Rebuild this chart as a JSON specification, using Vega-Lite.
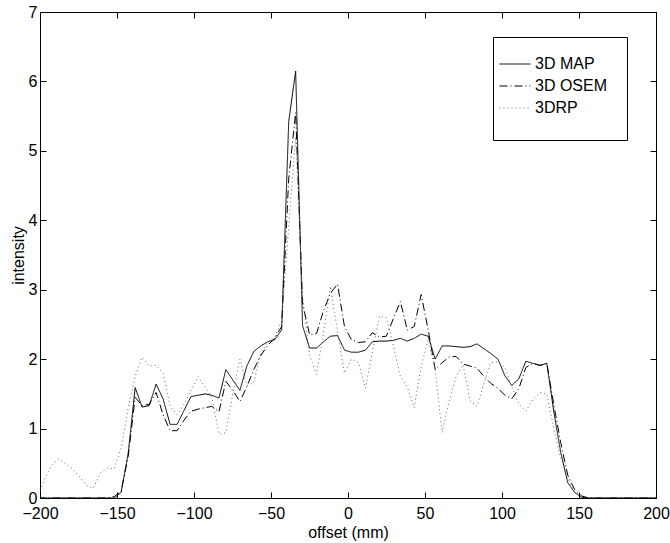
{
  "$schema": "https://vega.github.io/schema/vega-lite/v6.json",
  "width": 616,
  "height": 486,
  "autosize": "none",
  "padding": {"left": 40, "top": 12, "right": 14, "bottom": 45},
  "background": "white",
  "config": {
    "view": {"stroke": "black", "strokeWidth": 1},
    "axis": {
      "domain": false, "grid": false, "tickColor": "black", "tickSize": -6, "tickWidth": 1,
      "labelFlush": false,
      "labelFont": "Liberation Sans", "labelFontSize": 16, "labelColor": "black",
      "titleFont": "Liberation Sans", "titleFontSize": 16, "titleFontWeight": "normal", "titleColor": "black"
    },
    "legend": {
      "orient": "none", "legendX": 453, "legendY": 25,
      "strokeColor": "black", "fillColor": "white", "padding": 19,
      "symbolType": "M-3.1,0H3.1", "symbolSize": 100, "symbolStrokeWidth": 1,
      "symbolOffset": -5,
      "labelFont": "Liberation Sans", "labelFontSize": 16, "labelColor": "black",
      "labelOffset": 12, "rowPadding": 6,
      "titleOrient": "bottom", "titleFontSize": 5, "titlePadding": 0, "titleLimit": 400, "titleColor": "white"
    }
  },
  "data": {"values": [
    {"x": -201.6, "3D MAP": 0, "3D OSEM": 0, "3DRP": 0},
    {"x": -197.1, "3D MAP": 0, "3D OSEM": 0, "3DRP": 0.27},
    {"x": -192.6, "3D MAP": 0, "3D OSEM": 0, "3DRP": 0.47},
    {"x": -188.0, "3D MAP": 0, "3D OSEM": 0, "3DRP": 0.56},
    {"x": -183.5, "3D MAP": 0, "3D OSEM": 0, "3DRP": 0.5},
    {"x": -179.0, "3D MAP": 0, "3D OSEM": 0, "3DRP": 0.42},
    {"x": -174.4, "3D MAP": 0, "3D OSEM": 0, "3DRP": 0.31},
    {"x": -169.9, "3D MAP": 0, "3D OSEM": 0, "3DRP": 0.18},
    {"x": -165.4, "3D MAP": 0, "3D OSEM": 0, "3DRP": 0.14},
    {"x": -160.8, "3D MAP": 0, "3D OSEM": 0, "3DRP": 0.36},
    {"x": -156.3, "3D MAP": 0, "3D OSEM": 0, "3DRP": 0.43},
    {"x": -151.8, "3D MAP": 0, "3D OSEM": 0.02, "3DRP": 0.42},
    {"x": -147.3, "3D MAP": 0.08, "3D OSEM": 0.1, "3DRP": 0.72},
    {"x": -142.7, "3D MAP": 0.65, "3D OSEM": 0.6, "3DRP": 1.3},
    {"x": -138.2, "3D MAP": 1.59, "3D OSEM": 1.45, "3DRP": 1.75},
    {"x": -133.7, "3D MAP": 1.31, "3D OSEM": 1.33, "3DRP": 2.03},
    {"x": -129.1, "3D MAP": 1.33, "3D OSEM": 1.35, "3DRP": 1.9},
    {"x": -124.6, "3D MAP": 1.64, "3D OSEM": 1.52, "3DRP": 1.91},
    {"x": -120.1, "3D MAP": 1.43, "3D OSEM": 1.2, "3DRP": 1.8},
    {"x": -115.5, "3D MAP": 1.06, "3D OSEM": 0.97, "3DRP": 1.32},
    {"x": -111.0, "3D MAP": 1.06, "3D OSEM": 0.97, "3DRP": 1.2},
    {"x": -106.5, "3D MAP": 1.26, "3D OSEM": 1.12, "3DRP": 1.35},
    {"x": -102.0, "3D MAP": 1.46, "3D OSEM": 1.25, "3DRP": 1.55},
    {"x": -97.4, "3D MAP": 1.48, "3D OSEM": 1.28, "3DRP": 1.75},
    {"x": -92.9, "3D MAP": 1.5, "3D OSEM": 1.3, "3DRP": 1.6},
    {"x": -88.4, "3D MAP": 1.48, "3D OSEM": 1.32, "3DRP": 1.45},
    {"x": -83.8, "3D MAP": 1.44, "3D OSEM": 1.24, "3DRP": 0.92},
    {"x": -79.3, "3D MAP": 1.85, "3D OSEM": 1.68, "3DRP": 0.94},
    {"x": -74.8, "3D MAP": 1.7, "3D OSEM": 1.55, "3DRP": 1.5},
    {"x": -70.2, "3D MAP": 1.55, "3D OSEM": 1.39, "3DRP": 2.0},
    {"x": -65.7, "3D MAP": 1.9, "3D OSEM": 1.6, "3DRP": 1.62},
    {"x": -61.2, "3D MAP": 2.11, "3D OSEM": 1.85, "3DRP": 1.66},
    {"x": -56.7, "3D MAP": 2.19, "3D OSEM": 2.05, "3DRP": 2.09},
    {"x": -52.1, "3D MAP": 2.25, "3D OSEM": 2.2, "3DRP": 2.25},
    {"x": -47.6, "3D MAP": 2.28, "3D OSEM": 2.3, "3DRP": 2.32},
    {"x": -43.1, "3D MAP": 2.42, "3D OSEM": 2.47, "3DRP": 2.55},
    {"x": -38.5, "3D MAP": 5.42, "3D OSEM": 4.6, "3DRP": 3.9},
    {"x": -34.0, "3D MAP": 6.15, "3D OSEM": 5.55, "3DRP": 5.2},
    {"x": -29.5, "3D MAP": 2.48, "3D OSEM": 2.8, "3DRP": 2.9},
    {"x": -24.9, "3D MAP": 2.16, "3D OSEM": 2.35, "3DRP": 2.05},
    {"x": -20.4, "3D MAP": 2.16, "3D OSEM": 2.37, "3DRP": 1.78},
    {"x": -15.9, "3D MAP": 2.25, "3D OSEM": 2.7, "3DRP": 2.38},
    {"x": -11.4, "3D MAP": 2.33, "3D OSEM": 2.95, "3DRP": 3.05},
    {"x": -6.8, "3D MAP": 2.34, "3D OSEM": 3.08, "3DRP": 2.4},
    {"x": -2.3, "3D MAP": 2.13, "3D OSEM": 2.47, "3DRP": 1.8},
    {"x": 2.2, "3D MAP": 2.1, "3D OSEM": 2.28, "3DRP": 2.0},
    {"x": 6.8, "3D MAP": 2.1, "3D OSEM": 2.24, "3DRP": 1.95},
    {"x": 11.3, "3D MAP": 2.13, "3D OSEM": 2.25, "3DRP": 1.58},
    {"x": 15.8, "3D MAP": 2.25, "3D OSEM": 2.38, "3DRP": 2.1},
    {"x": 20.4, "3D MAP": 2.26, "3D OSEM": 2.32, "3DRP": 2.62},
    {"x": 24.9, "3D MAP": 2.26, "3D OSEM": 2.33, "3DRP": 2.6},
    {"x": 29.4, "3D MAP": 2.27, "3D OSEM": 2.58, "3DRP": 2.2},
    {"x": 34.0, "3D MAP": 2.3, "3D OSEM": 2.83, "3DRP": 1.75},
    {"x": 38.5, "3D MAP": 2.26, "3D OSEM": 2.42, "3DRP": 1.6},
    {"x": 43.0, "3D MAP": 2.3, "3D OSEM": 2.47, "3DRP": 1.3},
    {"x": 47.5, "3D MAP": 2.36, "3D OSEM": 2.93, "3DRP": 1.9},
    {"x": 52.1, "3D MAP": 2.33, "3D OSEM": 2.42, "3DRP": 2.28},
    {"x": 56.6, "3D MAP": 2.0, "3D OSEM": 1.85, "3DRP": 1.85},
    {"x": 61.1, "3D MAP": 2.19, "3D OSEM": 1.95, "3DRP": 0.94},
    {"x": 65.7, "3D MAP": 2.19, "3D OSEM": 2.03, "3DRP": 1.4},
    {"x": 70.2, "3D MAP": 2.18, "3D OSEM": 2.04, "3DRP": 1.75},
    {"x": 74.7, "3D MAP": 2.17, "3D OSEM": 1.93, "3DRP": 1.92},
    {"x": 79.3, "3D MAP": 2.18, "3D OSEM": 1.9, "3DRP": 1.4},
    {"x": 83.8, "3D MAP": 2.22, "3D OSEM": 1.87, "3DRP": 1.32},
    {"x": 88.3, "3D MAP": 2.15, "3D OSEM": 1.75, "3DRP": 1.65},
    {"x": 92.8, "3D MAP": 2.08, "3D OSEM": 1.65, "3DRP": 1.95},
    {"x": 97.4, "3D MAP": 2.0, "3D OSEM": 1.58, "3DRP": 1.96},
    {"x": 101.9, "3D MAP": 1.76, "3D OSEM": 1.48, "3DRP": 1.88},
    {"x": 106.4, "3D MAP": 1.62, "3D OSEM": 1.43, "3DRP": 1.6},
    {"x": 111.0, "3D MAP": 1.72, "3D OSEM": 1.58, "3DRP": 1.35},
    {"x": 115.5, "3D MAP": 1.97, "3D OSEM": 1.88, "3DRP": 1.25},
    {"x": 120.0, "3D MAP": 1.94, "3D OSEM": 1.94, "3DRP": 1.42},
    {"x": 124.6, "3D MAP": 1.91, "3D OSEM": 1.91, "3DRP": 1.52},
    {"x": 129.1, "3D MAP": 1.94, "3D OSEM": 1.94, "3DRP": 1.5},
    {"x": 133.6, "3D MAP": 1.25, "3D OSEM": 1.35, "3DRP": 1.0},
    {"x": 138.1, "3D MAP": 0.66, "3D OSEM": 0.8, "3DRP": 0.58},
    {"x": 142.7, "3D MAP": 0.22, "3D OSEM": 0.33, "3DRP": 0.28},
    {"x": 147.2, "3D MAP": 0.08, "3D OSEM": 0.12, "3DRP": 0.08},
    {"x": 151.7, "3D MAP": 0.01, "3D OSEM": 0.03, "3DRP": 0.02},
    {"x": 156.3, "3D MAP": 0, "3D OSEM": 0, "3DRP": 0},
    {"x": 160.8, "3D MAP": 0, "3D OSEM": 0, "3DRP": 0},
    {"x": 165.3, "3D MAP": 0, "3D OSEM": 0, "3DRP": 0},
    {"x": 169.9, "3D MAP": 0, "3D OSEM": 0, "3DRP": 0},
    {"x": 174.4, "3D MAP": 0, "3D OSEM": 0, "3DRP": 0},
    {"x": 178.9, "3D MAP": 0, "3D OSEM": 0, "3DRP": 0},
    {"x": 183.5, "3D MAP": 0, "3D OSEM": 0, "3DRP": 0},
    {"x": 188.0, "3D MAP": 0, "3D OSEM": 0, "3DRP": 0},
    {"x": 192.5, "3D MAP": 0, "3D OSEM": 0, "3DRP": 0},
    {"x": 197.1, "3D MAP": 0, "3D OSEM": 0, "3DRP": 0},
    {"x": 201.6, "3D MAP": 0, "3D OSEM": 0, "3DRP": 0}
  ]},
  "transform": [{"fold": ["3D MAP", "3D OSEM", "3DRP"], "as": ["series", "value"]}],
  "layer": [
    {
      "mark": {"type": "line", "strokeWidth": 1, "clip": true},
      "encoding": {
        "x": {"field": "x", "type": "quantitative",
              "scale": {"domain": [-200, 200], "nice": false, "zero": false},
              "axis": {"values": [-200, -150, -100, -50, 0, 50, 100, 150, 200], "title": "offset (mm)", "labelPadding": 13, "titlePadding": 3}},
        "y": {"field": "value", "type": "quantitative",
              "scale": {"domain": [0, 7], "nice": false},
              "axis": {"values": [0, 1, 2, 3, 4, 5, 6, 7], "title": "intensity", "labelPadding": 9, "titlePadding": 2}},
        "color": {"field": "series", "type": "nominal",
                  "scale": {"domain": ["3D MAP", "3D OSEM", "3DRP"], "range": ["#000000", "#000000", "#666666"]},
                  "legend": {"title": "\u00a0\u00a0\u00a0\u00a0\u00a0\u00a0\u00a0\u00a0\u00a0\u00a0\u00a0\u00a0\u00a0\u00a0\u00a0\u00a0\u00a0\u00a0\u00a0\u00a0\u00a0\u00a0\u00a0\u00a0\u00a0\u00a0\u00a0\u00a0\u00a0\u00a0\u00a0\u00a0\u00a0\u00a0\u00a0\u00a0\u00a0\u00a0\u00a0\u00a0\u00a0\u00a0\u00a0\u00a0\u00a0\u00a0\u00a0\u00a0\u00a0\u00a0\u00a0\u00a0\u00a0\u00a0\u00a0\u00a0\u00a0\u00a0\u00a0\u00a0\u00a0\u00a0\u00a0\u00a0\u00a0\u00a0\u00a0\u00a0\u00a0\u00a0\u00a0\u00a0\u00a0\u00a0\u00a0"}},
        "strokeDash": {"field": "series", "type": "nominal",
                  "scale": {"domain": ["3D MAP", "3D OSEM", "3DRP"], "range": [[1, 0], [8, 3, 1, 3], [1, 3]]},
                  "legend": {"title": "\u00a0\u00a0\u00a0\u00a0\u00a0\u00a0\u00a0\u00a0\u00a0\u00a0\u00a0\u00a0\u00a0\u00a0\u00a0\u00a0\u00a0\u00a0\u00a0\u00a0\u00a0\u00a0\u00a0\u00a0\u00a0\u00a0\u00a0\u00a0\u00a0\u00a0\u00a0\u00a0\u00a0\u00a0\u00a0\u00a0\u00a0\u00a0\u00a0\u00a0\u00a0\u00a0\u00a0\u00a0\u00a0\u00a0\u00a0\u00a0\u00a0\u00a0\u00a0\u00a0\u00a0\u00a0\u00a0\u00a0\u00a0\u00a0\u00a0\u00a0\u00a0\u00a0\u00a0\u00a0\u00a0\u00a0\u00a0\u00a0\u00a0\u00a0\u00a0\u00a0\u00a0\u00a0\u00a0"}}
      }
    },
    {
      "mark": {"type": "line", "opacity": 0, "clip": true},
      "encoding": {
        "x": {"field": "x", "type": "quantitative",
              "scale": {"domain": [-200, 200], "nice": false, "zero": false},
              "axis": {"orient": "top", "values": [-200, -150, -100, -50, 0, 50, 100, 150, 200], "labels": false, "title": null}},
        "y": {"field": "value", "type": "quantitative",
              "scale": {"domain": [0, 7], "nice": false},
              "axis": {"orient": "right", "values": [0, 1, 2, 3, 4, 5, 6, 7], "labels": false, "title": null}},
        "detail": {"field": "series"}
      }
    }
  ],
  "resolve": {"axis": {"x": "independent", "y": "independent"}}
}
